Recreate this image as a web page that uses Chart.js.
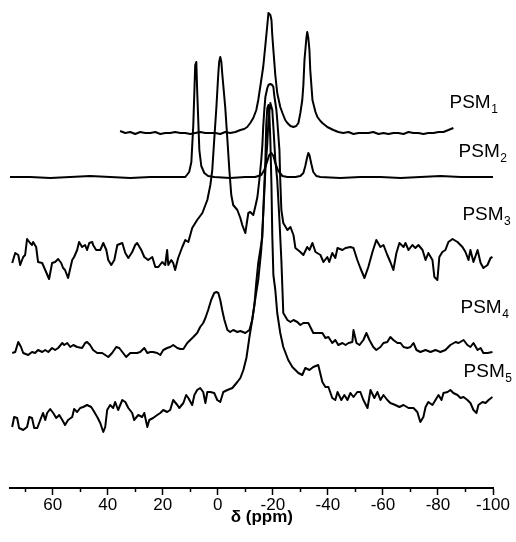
<!DOCTYPE html>
<html>
<head>
<meta charset="utf-8">
<script src="https://cdn.jsdelivr.net/npm/chart.js@4.4.1/dist/chart.umd.min.js"></script>
<style>
  html, body { margin: 0; padding: 0; background: #ffffff; }
  #wrap { width: 516px; height: 542px; }
</style>
</head>
<body>
<div id="wrap"><canvas id="nmrChart"></canvas></div>
<script>
// Spectra: [shift (ppm), intensity incl. stacking offset]
const psm1 = [
  [35.5,357],[33.6,355],[31.8,356],[30.0,354],[28.2,356],[26.4,355],[24.5,355],[22.7,356],
  [20.9,354],[19.1,355],[17.3,355],[15.5,356],[13.6,355],[11.8,355],[10.0,354],[8.2,355],
  [6.4,356],[4.5,355],[2.7,355],[0.9,355],[-0.9,354],[-2.7,356],[-4.5,355],[-6.4,356],
  [-8.2,358],[-9.6,359],[-10.7,361],[-11.8,365],[-12.9,370],[-14.0,378],[-14.7,388],
  [-15.8,408],[-16.5,421],[-17.3,443],[-18.0,463],[-18.4,475],[-19.1,473],[-19.5,468],
  [-19.8,453],[-20.2,438],[-20.9,413],[-21.6,395],[-22.7,381],[-23.5,375],[-24.5,368],
  [-25.3,365],[-26.4,362],[-27.5,361],[-28.5,362],[-29.3,365],[-30.0,375],[-30.7,388],
  [-31.1,403],[-31.5,428],[-32.2,450],[-32.5,456],[-32.9,450],[-33.3,438],[-33.6,418],
  [-34.4,388],[-35.5,376],[-36.2,371],[-37.3,367],[-38.0,365],[-39.8,361],[-42.0,358],
  [-43.8,356],[-45.6,355],[-47.5,356],[-49.3,354],[-51.1,355],[-52.9,355],[-54.7,355],
  [-56.5,356],[-58.4,354],[-60.2,355],[-62.0,354],[-63.8,355],[-65.6,355],[-67.5,354],
  [-69.3,356],[-71.1,355],[-72.9,355],[-74.7,354],[-76.5,355],[-78.4,355],[-80.2,356],
  [-82.0,356],[-83.8,358],[-85.6,360]
];

const psm2 = [
  [75.5,311],[68.2,311],[60.9,310],[53.6,311],[46.4,312],[39.1,311],[31.8,310],[24.5,311],
  [17.3,311],[11.8,311],[10.4,316],[9.6,326],[8.9,363],[8.2,423],[7.8,426],[7.5,398],
  [6.7,338],[6.0,322],[4.9,315],[3.5,312],[1.3,311],[-4.5,310],[-10.0,311],[-13.6,311],
  [-15.8,313],[-16.9,318],[-18.0,327],[-18.7,333],[-19.5,335],[-20.2,332],[-20.9,325],
  [-22.0,317],[-23.5,312],[-25.3,311],[-28.2,311],[-30.0,312],[-31.1,315],[-31.8,322],
  [-32.5,331],[-32.9,335],[-33.3,333],[-34.0,324],[-34.7,316],[-35.8,312],[-37.3,311],
  [-44.5,310],[-51.8,311],[-59.1,311],[-66.4,310],[-73.6,311],[-80.9,312],[-88.2,311],
  [-95.5,311],[-100,311]
];

const psm3 = [
  [74.7,225],[73.6,235],[72.5,233],[71.8,223],[70.7,231],[70.0,233],[69.3,249],[68.2,245],
  [67.5,243],[67.1,246],[66.0,241],[65.3,226],[63.8,225],[62.7,218],[61.3,209],[60.2,225],
  [59.1,226],[58.0,229],[56.9,225],[56.2,220],[55.5,218],[54.4,210],[52.9,228],[52.2,231],
  [51.1,238],[50.4,246],[49.3,241],[48.2,243],[47.5,238],[46.7,245],[45.6,246],[45.3,243],
  [44.2,238],[42.7,238],[41.6,245],[40.5,238],[39.8,228],[38.7,223],[37.6,228],[36.5,243],
  [34.7,245],[33.6,235],[32.5,230],[31.1,236],[30.0,243],[29.3,245],[27.8,238],[26.7,231],
  [25.3,228],[23.8,231],[22.7,221],[21.6,221],[20.2,226],[19.1,223],[18.4,238],[18.0,223],
  [16.9,228],[16.2,225],[15.5,218],[14.4,230],[12.9,241],[11.8,248],[10.7,246],[9.3,260],
  [7.5,268],[5.6,275],[4.5,283],[3.8,288],[2.7,303],[2.0,318],[1.3,348],[0.5,381],
  [-0.2,415],[-0.5,426],[-0.9,431],[-1.3,426],[-1.6,415],[-2.7,381],[-3.5,348],[-4.2,318],
  [-4.9,293],[-5.6,283],[-7.1,278],[-8.2,270],[-8.9,263],[-10.0,255],[-11.1,275],[-11.8,276],
  [-12.9,273],[-13.6,281],[-14.4,291],[-15.1,308],[-15.8,328],[-16.2,343],[-16.5,361],
  [-16.9,378],[-17.3,391],[-18.0,400],[-18.4,403],[-19.1,404],[-19.8,403],[-20.2,401],
  [-20.5,393],[-21.3,378],[-21.6,368],[-22.4,338],[-22.7,308],[-23.1,278],[-23.8,265],
  [-25.3,258],[-26.4,261],[-27.5,253],[-28.2,240],[-30.0,236],[-31.1,233],[-32.5,241],
  [-33.3,238],[-34.4,245],[-35.5,236],[-37.3,233],[-38.4,226],[-39.8,231],[-40.5,226],
  [-41.6,235],[-42.7,230],[-43.5,240],[-45.3,238],[-46.4,240],[-48.2,241],[-49.3,240],
  [-50.7,228],[-51.8,220],[-53.3,210],[-54.7,221],[-56.2,236],[-57.6,248],[-59.1,241],
  [-60.2,243],[-61.6,233],[-62.7,226],[-63.8,218],[-64.9,235],[-66.0,245],[-67.5,241],
  [-68.2,245],[-69.3,238],[-70.7,243],[-71.8,240],[-72.9,243],[-74.4,238],[-75.5,228],
  [-76.5,235],[-78.0,228],[-78.7,211],[-79.8,208],[-80.5,231],[-81.6,236],[-82.7,238],
  [-83.8,246],[-85.3,249],[-87.1,246],[-88.9,241],[-90.0,236],[-91.1,228],[-91.8,238],
  [-92.9,226],[-94.4,238],[-95.5,225],[-96.5,220],[-98.0,223],[-99.1,230],[-99.8,231]
];

const psm4 = [
  [74.7,135],[73.6,136],[72.5,146],[71.5,141],[70.7,135],[68.9,133],[67.5,136],[66.4,135],
  [65.3,138],[63.8,136],[62.7,138],[61.6,136],[60.2,140],[59.1,138],[58.0,140],[56.5,145],
  [55.8,143],[54.7,145],[53.6,141],[52.5,143],[51.1,141],[49.3,140],[48.2,145],[47.5,146],
  [46.4,143],[45.3,138],[43.8,135],[42.0,135],[40.9,133],[39.8,131],[38.4,135],[36.9,141],
  [35.8,140],[34.4,135],[33.3,131],[31.8,135],[30.7,135],[29.3,135],[28.2,136],[26.7,140],
  [25.6,135],[24.5,136],[23.5,136],[22.0,135],[20.9,133],[19.8,138],[18.4,140],[17.3,141],
  [16.2,143],[14.7,140],[13.6,139],[12.5,139],[11.1,145],[10.0,148],[8.9,151],[7.5,155],
  [6.4,161],[5.3,165],[4.5,170],[3.5,178],[2.4,188],[1.3,195],[0.5,196],[-0.2,195],
  [-0.9,188],[-1.6,178],[-2.4,168],[-3.5,158],[-4.5,156],[-5.6,158],[-7.1,156],[-8.2,157],
  [-10.0,155],[-11.5,158],[-12.5,168],[-13.3,183],[-14.0,196],[-14.7,208],[-15.8,238],
  [-16.5,273],[-17.3,318],[-18.0,345],[-18.4,368],[-19.1,385],[-19.8,378],[-20.2,361],
  [-20.9,328],[-21.6,308],[-22.4,268],[-23.1,228],[-23.5,198],[-23.8,175],[-25.3,168],
  [-26.4,166],[-27.5,168],[-28.9,166],[-30.0,163],[-31.1,165],[-32.9,165],[-34.7,155],
  [-36.5,155],[-38.0,155],[-39.1,150],[-40.2,151],[-41.6,145],[-42.7,148],[-43.8,143],
  [-45.3,145],[-46.4,143],[-47.5,145],[-48.9,146],[-49.3,158],[-50.4,145],[-51.5,143],
  [-52.9,148],[-54.0,155],[-55.1,148],[-56.5,141],[-57.6,138],[-59.1,141],[-60.2,145],
  [-61.6,146],[-62.7,151],[-63.8,148],[-65.3,145],[-66.4,145],[-67.5,141],[-68.9,140],
  [-70.0,141],[-71.1,145],[-72.2,138],[-73.6,136],[-75.5,138],[-77.3,136],[-79.1,138],
  [-80.9,136],[-82.7,138],[-84.5,143],[-86.4,146],[-87.5,145],[-89.3,148],[-90.7,143],
  [-91.8,141],[-92.9,145],[-94.4,138],[-95.5,140],[-96.5,135],[-98.0,135],[-99.8,136]
];

const psm5 = [
  [74.7,61],[74.0,71],[72.9,70],[72.2,60],[70.7,58],[69.3,61],[68.5,71],[67.5,70],
  [66.7,60],[65.6,60],[64.5,68],[63.5,75],[62.7,68],[62.0,75],[60.9,79],[59.8,75],
  [58.7,70],[57.6,73],[56.5,68],[55.5,63],[54.4,68],[52.9,71],[52.2,79],[51.1,76],
  [50.0,80],[48.9,81],[47.5,83],[46.0,81],[45.3,78],[43.8,71],[42.7,65],[41.6,56],
  [40.9,61],[40.2,78],[39.1,83],[38.0,80],[37.3,86],[36.2,78],[34.7,88],[33.6,86],
  [32.5,80],[31.1,75],[30.4,68],[28.9,73],[27.5,71],[26.7,75],[25.6,61],[24.9,68],
  [23.5,70],[22.0,73],[20.9,75],[19.8,78],[18.4,76],[17.3,78],[16.2,88],[14.7,83],
  [14.0,80],[12.5,85],[11.5,93],[10.7,90],[9.3,83],[8.5,93],[7.5,98],[6.4,100],
  [5.3,96],[4.5,85],[3.8,96],[2.7,96],[1.3,95],[0.2,88],[-0.9,86],[-2.0,96],
  [-3.5,98],[-5.3,100],[-7.1,106],[-8.2,110],[-9.3,118],[-10.4,130],[-11.5,151],
  [-12.5,168],[-13.3,183],[-14.0,206],[-14.7,225],[-16.2,251],[-16.5,275],[-17.3,328],
  [-17.6,363],[-18.0,380],[-18.4,383],[-18.7,376],[-19.1,348],[-19.5,303],[-19.8,253],
  [-20.2,213],[-20.9,198],[-21.6,175],[-22.7,155],[-23.8,141],[-25.6,128],[-27.1,121],
  [-28.2,118],[-29.3,115],[-30.7,113],[-31.8,120],[-33.3,118],[-34.7,121],[-36.5,123],
  [-38.0,106],[-39.1,101],[-40.2,101],[-41.6,90],[-42.7,88],[-43.5,96],[-44.9,88],
  [-46.0,93],[-47.1,88],[-48.2,95],[-49.3,91],[-50.7,96],[-51.8,96],[-52.9,88],
  [-54.4,80],[-55.5,98],[-56.9,90],[-58.0,96],[-59.1,88],[-60.2,93],[-61.6,88],
  [-62.7,85],[-64.5,83],[-66.0,81],[-67.5,83],[-69.3,80],[-71.1,80],[-72.5,76],
  [-73.6,66],[-74.7,71],[-75.5,81],[-76.5,86],[-78.0,83],[-79.1,88],[-80.2,93],
  [-81.3,88],[-82.0,95],[-83.5,96],[-84.5,98],[-85.6,95],[-87.1,93],[-88.2,90],
  [-89.3,91],[-90.7,88],[-91.8,85],[-92.9,78],[-94.0,75],[-94.7,83],[-96.2,86],
  [-97.3,85],[-98.4,88],[-99.8,91]
];

const seriesNames = ['PSM1', 'PSM2', 'PSM3', 'PSM4', 'PSM5'];
const seriesData = [psm1, psm2, psm3, psm4, psm5];

// label anchors [shift, intensity] for the sample names
const nameShift = [-84.2, -87.5, -88.9, -88.2, -89.3];
const nameLevel = [385, 336, 273, 180, 116];

const xMajorTicks = [60, 40, 20, 0, -20, -40, -60, -80, -100];
const xMinorTicks = [70, 50, 30, 10, -10, -30, -50, -70, -90];
const xMin = -100;
const xMax = 75.5;

const FONT = '"Liberation Sans", Arial, Helvetica, sans-serif';

// Draws minor ticks, the axis title and the PSM names with subscripts
const decorPlugin = {
  id: 'decor',
  afterDraw(chart) {
    const ctx = chart.ctx;
    const xs = chart.scales.x;
    const ys = chart.scales.y;
    const bottom = chart.chartArea.bottom;

    ctx.save();
    ctx.strokeStyle = '#000';
    ctx.lineWidth = 1.5;
    xMinorTicks.forEach(v => {
      const px = Math.round(xs.getPixelForValue(v)) + 0.5;
      ctx.beginPath();
      ctx.moveTo(px, bottom);
      ctx.lineTo(px, bottom + 4);
      ctx.stroke();
    });

    ctx.fillStyle = '#000';
    ctx.textBaseline = 'middle';
    ctx.textAlign = 'left';
    seriesNames.forEach((name, i) => {
      const px = xs.getPixelForValue(nameShift[i]);
      const py = ys.getPixelForValue(nameLevel[i]);
      const main = name.slice(0, 3);
      const sub = name.slice(3);
      ctx.font = '19px ' + FONT;
      ctx.fillText(main, px, py);
      const w = ctx.measureText(main).width;
      ctx.font = '12px ' + FONT;
      ctx.fillText(sub, px + w + 0.5, py + 7);
    });

    // axis title, centred a little right of the plot centre as in the figure
    ctx.font = 'bold 17px ' + FONT;
    ctx.textAlign = 'center';
    ctx.fillText('δ (ppm)', xs.getPixelForValue(-16), bottom + 29);
    ctx.restore();
  }
};

document.addEventListener('DOMContentLoaded', function() {
  const ctx = document.getElementById('nmrChart').getContext('2d');

  const datasets = seriesData.map((arr, i) => ({
    label: seriesNames[i],
    data: arr.map(p => ({ x: p[0], y: p[1] })),
    borderColor: '#000000',
    borderWidth: 2,
    borderJoinStyle: 'round',
    pointRadius: 0,
    fill: false,
    tension: 0
  }));

  window.nmrChart = new Chart(ctx, {
    type: 'line',
    data: { datasets: datasets },
    options: {
      responsive: true,
      maintainAspectRatio: false,
      animation: false,
      layout: { padding: { left: 10, right: 23, top: 0, bottom: 0 } },
      plugins: {
        legend: { display: false },
        tooltip: { enabled: false }
      },
      scales: {
        x: {
          type: 'linear',
          reverse: true,
          min: xMin,
          max: xMax,
          afterBuildTicks: (axis) => {
            axis.ticks = xMajorTicks.map(v => ({ value: v }));
          },
          afterFit: (axis) => { axis.height = 54; },
          border: { display: true, color: '#000', width: 2 },
          grid: {
            drawOnChartArea: false,
            drawTicks: true,
            tickLength: 7,
            tickColor: '#000',
            tickWidth: 1.5
          },
          ticks: {
            color: '#000',
            padding: 0,
            autoSkip: false,
            maxRotation: 0,
            font: { family: FONT, size: 17 },
            callback: (v) => v < 0 ? '-' + Math.abs(v) : String(v)
          },
          title: { display: false }
        },
        y: {
          display: false,
          min: 0,
          max: 488
        }
      }
    },
    plugins: [decorPlugin]
  });
});
</script>
</body>
</html>
